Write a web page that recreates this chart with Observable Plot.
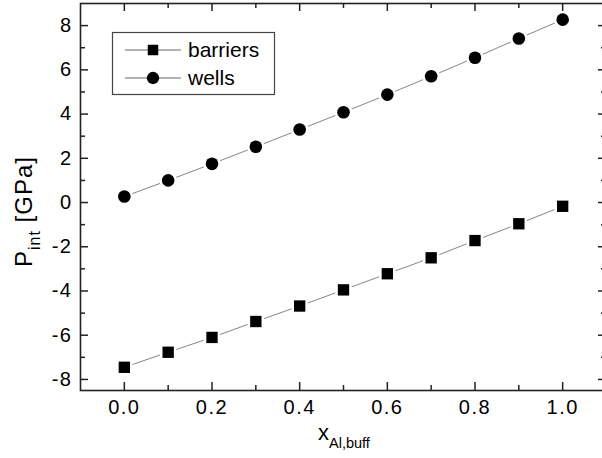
<!DOCTYPE html>
<html><head><meta charset="utf-8">
<script src="https://cdn.jsdelivr.net/npm/d3@7"></script>
<script src="https://cdn.jsdelivr.net/npm/@observablehq/plot@0.6"></script>
<style>
html,body{margin:0;padding:0;overflow:hidden;background:#fff;}
#wrap{position:relative;width:602px;height:458px;overflow:hidden;font-family:"Liberation Sans",Arial,sans-serif;}
#wrap svg{display:block;max-width:none !important;}
#wrap g[aria-label$="tick label"] text{letter-spacing:1.5px;}
</style></head><body><div id="wrap"></div>
<script>
const xAl = [0.0, 0.1, 0.2, 0.3, 0.4, 0.5, 0.6, 0.7, 0.8, 0.9, 1.0];
const barriers = [-7.45, -6.77, -6.1, -5.38, -4.68, -3.95, -3.22, -2.5, -1.72, -0.96, -0.17];
const wells = [0.27, 1.0, 1.75, 2.52, 3.3, 4.08, 4.88, 5.71, 6.55, 7.42, 8.27];
const xMajor = [0.0, 0.2, 0.4, 0.6, 0.8, 1.0];
const xMinor = [0.1, 0.3, 0.5, 0.7, 0.9];
const yMajor = [-8, -6, -4, -2, 0, 2, 4, 6, 8];
const yMinor = [-7, -5, -3, -1, 1, 3, 5, 7];
const seriesNames = ["barriers", "wells"];

const W = 608, H = 458, mL = 80, mR = 2, mT = 3, mB = 68;
const iw = W - mL - mR, ih = H - mT - mB;
const axisColor = "#222";
const FONT = '"Liberation Sans", Arial, sans-serif';

const dataB = xAl.map((x, i) => ({x, y: barriers[i]}));
const dataW = xAl.map((x, i) => ({x, y: wells[i]}));

const plot = Plot.plot({
  width: W, height: H,
  marginLeft: mL, marginRight: mR, marginTop: mT, marginBottom: mB,
  style: {fontFamily: FONT, background: "#fff", color: "#000", maxWidth: "none"},
  x: {domain: [-0.1, 1.1]},
  y: {domain: [-8.5, 9]},
  marks: [
    Plot.line(dataB, {x: "x", y: "y", stroke: "#777", strokeWidth: 0.9}),
    Plot.line(dataW, {x: "x", y: "y", stroke: "#777", strokeWidth: 0.9}),
    Plot.dot(dataB, {x: "x", y: "y", symbol: "square", r: 6.4, fill: "#000", stroke: "#fff", strokeWidth: 5, paintOrder: "stroke"}),
    Plot.dot(dataW, {x: "x", y: "y", symbol: "circle", r: 6.3, fill: "#000", stroke: "#fff", strokeWidth: 5, paintOrder: "stroke"}),
    // inward ticks
    Plot.tickX(xMajor, {x: d => d, insetTop: ih - 8, stroke: axisColor, strokeWidth: 1.5}),
    Plot.tickX(xMinor, {x: d => d, insetTop: ih - 5, stroke: axisColor, strokeWidth: 1.5}),
    Plot.tickX(xMajor, {x: d => d, insetBottom: ih - 8, stroke: axisColor, strokeWidth: 1.5}),
    Plot.tickX(xMinor, {x: d => d, insetBottom: ih - 5, stroke: axisColor, strokeWidth: 1.5}),
    Plot.tickY(yMajor, {y: d => d, insetRight: iw - 8, stroke: axisColor, strokeWidth: 1.5}),
    Plot.tickY(yMinor, {y: d => d, insetRight: iw - 5, stroke: axisColor, strokeWidth: 1.5}),
    Plot.tickY(yMajor, {y: d => d, insetLeft: iw - 8, stroke: axisColor, strokeWidth: 1.5}),
    Plot.tickY(yMinor, {y: d => d, insetLeft: iw - 5, stroke: axisColor, strokeWidth: 1.5}),
    Plot.axisX(xMajor, {tickSize: 0, tickPadding: 9, fontSize: 20, tickFormat: d3.format(".1f"), label: null, fill: "#000"}),
    Plot.axisY(yMajor, {tickSize: 0, tickPadding: 8, fontSize: 20, tickFormat: d => d < 0 ? "-" + Math.abs(d) : String(d), label: null, fill: "#000"}),
    Plot.frame({stroke: axisColor, strokeWidth: 1.6})
  ]
});
plot.style.maxWidth = "none";
document.getElementById("wrap").appendChild(plot);

const svg = d3.select(plot);
// x axis label
const xl = svg.append("text")
  .attr("x", 318).attr("y", 440).attr("text-anchor", "start")
  .attr("font-family", FONT)
  .attr("font-size", 22).attr("fill", "#000");
xl.append("tspan").text("x");
xl.append("tspan").attr("font-size", 14.5).attr("dy", 8).text("Al,buff");

// y axis label
const yl = svg.append("text")
  .attr("transform", "translate(32,267) rotate(-90)").attr("text-anchor", "start")
  .attr("font-family", FONT).attr("letter-spacing", "1px")
  .attr("font-size", 24).attr("fill", "#000");
yl.append("tspan").text("P");
yl.append("tspan").attr("font-size", 16).attr("dy", 8).text("int");
yl.append("tspan").attr("dy", -8).text(" [GPa]");

// legend
const lg = svg.append("g").attr("transform", "translate(112,32)");
lg.append("rect").attr("x", 0.5).attr("y", 0.5).attr("width", 162).attr("height", 62)
  .attr("fill", "#fff").attr("stroke", "#444").attr("stroke-width", 1.2);
seriesNames.forEach((name, i) => {
  const cy = 18 + i * 28;
  lg.append("line").attr("x1", 13).attr("x2", 69).attr("y1", cy).attr("y2", cy)
    .attr("stroke", "#555").attr("stroke-width", 0.9);
  lg.append("path")
    .attr("d", d3.symbol(i === 0 ? d3.symbolSquare : d3.symbolCircle, i === 0 ? 110 : 120)())
    .attr("transform", `translate(41,${cy})`).attr("fill", "#000");
  lg.append("text").attr("x", 76).attr("y", cy).attr("dy", "0.35em").attr("text-anchor", "start")
    .attr("font-family", FONT)
    .attr("font-size", 21).attr("fill", "#000").text(name);
});
</script>
</body></html>
